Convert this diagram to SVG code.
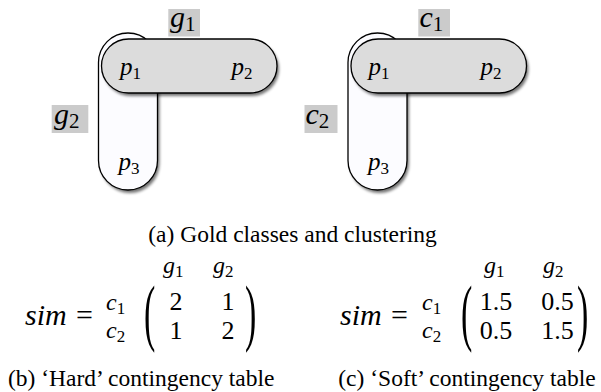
<svg xmlns="http://www.w3.org/2000/svg" width="601" height="392" viewBox="0 0 601 392" font-family="'Liberation Serif', 'Times New Roman', serif">
<defs>
<filter id="bl" x="-20%" y="-20%" width="140%" height="140%"><feGaussianBlur stdDeviation="1.8"/></filter>
<style>
.pillV{fill:#fcfcff;stroke:#000;stroke-width:1.3}
.pillH{fill:#dcdcdc;stroke:#000;stroke-width:1.3}
.shd{fill:#000;opacity:0.55}
.lbox{fill:#cbcbcb}
.mi{font-style:italic}
.big{font-size:30px}
.pt{font-size:25px}
.sub{font-size:17px;font-style:normal}
.bsub{font-size:21px;font-style:normal}
.cap{font-size:23.5px}
.num{font-size:26px}
.par{font-size:34px}
</style>
</defs>

<g id="gold">
<g id="g2-set"><rect class="shd" filter="url(#bl)" x="100.5" y="36" width="59" height="157" rx="29.5"/><rect class="pillV" x="98.5" y="33" width="59" height="157" rx="29.5"/></g>
<g id="g1-set"><rect class="shd" filter="url(#bl)" x="103.5" y="42" width="175.5" height="54" rx="27"/><rect class="pillH" x="101.5" y="39" width="175.5" height="54" rx="27"/></g>
<g id="g1-label"><rect class="lbox" x="168.3" y="9" width="31.7" height="27.5"/><text class="mi big" x="170" y="27">g<tspan class="bsub" dy="4">1</tspan></text></g>
<g id="g2-label"><rect class="lbox" x="51.7" y="105" width="36.6" height="28"/><text class="mi big" x="54" y="123.5">g<tspan class="bsub" dy="4">2</tspan></text></g>
<g id="p1a"><text class="mi pt" x="120" y="75">p<tspan class="sub" dy="4">1</tspan></text></g>
<g id="p2a"><text class="mi pt" x="231.5" y="75">p<tspan class="sub" dy="4">2</tspan></text></g>
<g id="p3a"><text class="mi pt" x="118.5" y="170">p<tspan class="sub" dy="4">3</tspan></text></g>
</g>

<g id="clust" transform="translate(249.5,0)">
<g id="c2-set"><rect class="shd" filter="url(#bl)" x="100.5" y="36" width="59" height="157" rx="29.5"/><rect class="pillV" x="98.5" y="33" width="59" height="157" rx="29.5"/></g>
<g id="c1-set"><rect class="shd" filter="url(#bl)" x="103.5" y="42" width="175.5" height="54" rx="27"/><rect class="pillH" x="101.5" y="39" width="175.5" height="54" rx="27"/></g>
<g id="c1-label"><rect class="lbox" x="168.8" y="9" width="31.7" height="27.5"/><text class="mi big" x="170" y="27">c<tspan class="bsub" dy="4">1</tspan></text></g>
<g id="c2-label"><rect class="lbox" x="55" y="105" width="33" height="28"/><text class="mi big" x="56" y="123.5">c<tspan class="bsub" dy="4">2</tspan></text></g>
<g id="p1b"><text class="mi pt" x="119" y="75">p<tspan class="sub" dy="4">1</tspan></text></g>
<g id="p2b"><text class="mi pt" x="231" y="75">p<tspan class="sub" dy="4">2</tspan></text></g>
<g id="p3b"><text class="mi pt" x="118.5" y="170">p<tspan class="sub" dy="4">3</tspan></text></g>
</g>

<text class="cap" x="148.3" y="241.5">(a) Gold classes and clustering</text>

<g id="hard">
<text class="mi big" x="25" y="325">sim</text>
<text class="big" x="76" y="325">=</text>
<text class="mi" font-size="24" x="106" y="310">c<tspan class="sub" dy="4">1</tspan></text>
<text class="mi" font-size="24" x="106" y="338">c<tspan class="sub" dy="4">2</tspan></text>
<text class="mi" font-size="24" x="163" y="273">g<tspan class="sub" dy="4">1</tspan></text>
<text class="mi" font-size="24" x="213" y="273">g<tspan class="sub" dy="4">2</tspan></text>
<text class="par" transform="translate(144,337) scale(1,2.2)">(</text>
<text class="par" transform="translate(245,337) scale(1,2.2)">)</text>
<text class="num" x="176" y="310" text-anchor="middle">2</text>
<text class="num" x="228" y="310" text-anchor="middle">1</text>
<text class="num" x="176" y="338.5" text-anchor="middle">1</text>
<text class="num" x="228" y="338.5" text-anchor="middle">2</text>
<text class="cap" x="8" y="386">(b) ‘Hard’ contingency table</text>
</g>

<g id="soft">
<text class="mi big" x="340" y="325">sim</text>
<text class="big" x="391" y="325">=</text>
<text class="mi" font-size="24" x="422" y="310">c<tspan class="sub" dy="4">1</tspan></text>
<text class="mi" font-size="24" x="422" y="338">c<tspan class="sub" dy="4">2</tspan></text>
<text class="mi" font-size="24" x="484" y="273">g<tspan class="sub" dy="4">1</tspan></text>
<text class="mi" font-size="24" x="543" y="273">g<tspan class="sub" dy="4">2</tspan></text>
<text class="par" transform="translate(461,337) scale(1,2.2)">(</text>
<text class="par" transform="translate(577,337) scale(1,2.2)">)</text>
<text class="num" x="496" y="310" text-anchor="middle">1.5</text>
<text class="num" x="557.5" y="310" text-anchor="middle">0.5</text>
<text class="num" x="496" y="338.5" text-anchor="middle">0.5</text>
<text class="num" x="557.5" y="338.5" text-anchor="middle">1.5</text>
<text class="cap" x="338.3" y="386">(c) ‘Soft’ contingency table</text>
</g>
</svg>
